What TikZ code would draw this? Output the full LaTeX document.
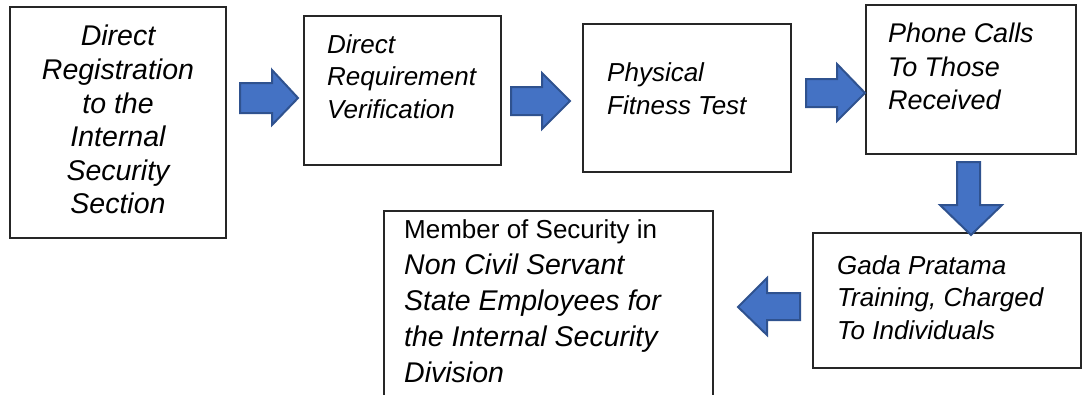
\documentclass[tikz,border=0pt]{standalone}
\usepackage{fontspec}
\setmainfont{Liberation Sans}
\begin{document}
\begin{tikzpicture}[x=1pt,y=-1pt,
  stepbox/.style={draw=black!85, line width=1.3pt, fill=white},
  steptext/.style={inner sep=0pt, font=\fontsize{26}{33}\selectfont\itshape},
  blockarrow/.style={draw={rgb,255:red,47;green,82;blue,143}, fill={rgb,255:red,68;green,114;blue,196}, line width=2pt, line join=miter}
]
\useasboundingbox (0,0) rectangle (1083,394);

% process boxes
\draw[stepbox] (10,7) rectangle (226,238);
\draw[stepbox] (304,16) rectangle (501,165);
\draw[stepbox] (583,24) rectangle (791,172);
\draw[stepbox] (866,5) rectangle (1076,154);
\draw[stepbox] (813,233) rectangle (1081,368);
\draw[stepbox] (384,211) rectangle (713,400);

% box texts
\node[steptext, anchor=north, align=center, font=\fontsize{28.5}{33.6}\selectfont\itshape] (t1) at (118,25)
  {Direct\\Registration\\to the\\Internal\\Security\\Section};
\node[steptext, anchor=north west, align=left, font=\fontsize{26}{32.5}\selectfont\itshape] (t2) at (327,34)
  {Direct\\Requirement\\Verification};
\node[steptext, anchor=north west, align=left] (t3) at (607,62)
  {Physical\\Fitness Test};
\node[steptext, anchor=north west, align=left, font=\fontsize{27}{33.5}\selectfont\itshape] (t4) at (888,23)
  {Phone Calls\\To Those\\Received};
\node[steptext, anchor=north west, align=left, font=\fontsize{26}{32.5}\selectfont\itshape] (t5) at (837,255)
  {Gada Pratama\\Training, Charged\\To Individuals};
\node[steptext, anchor=north west, align=left, font=\fontsize{26}{36}\selectfont] (t6) at (404,219)
  {Member of Security in\\\fontsize{28.5}{36}\selectfont\itshape Non Civil Servant\\\fontsize{28.5}{36}\selectfont\itshape State Employees for\\\fontsize{28.5}{36}\selectfont\itshape the Internal Security\\\fontsize{28.5}{36}\selectfont\itshape Division};

% block arrows between steps
\draw[blockarrow] (240,83) -- (272,83) -- (272,70) -- (298,98) -- (272,125) -- (272,113) -- (240,113) -- cycle;
\draw[blockarrow] (511,87) -- (542,87) -- (542,73) -- (570,101) -- (542,129) -- (542,115) -- (511,115) -- cycle;
\draw[blockarrow] (806,79) -- (837,79) -- (837,64) -- (865,93) -- (837,121) -- (837,107) -- (806,107) -- cycle;
\draw[blockarrow] (957,162) -- (980,162) -- (980,205) -- (1002,205) -- (971,235) -- (940,205) -- (957,205) -- cycle;
\draw[blockarrow] (800,293) -- (767,293) -- (767,278) -- (738,307) -- (767,335) -- (767,320) -- (800,320) -- cycle;
\end{tikzpicture}
\end{document}
